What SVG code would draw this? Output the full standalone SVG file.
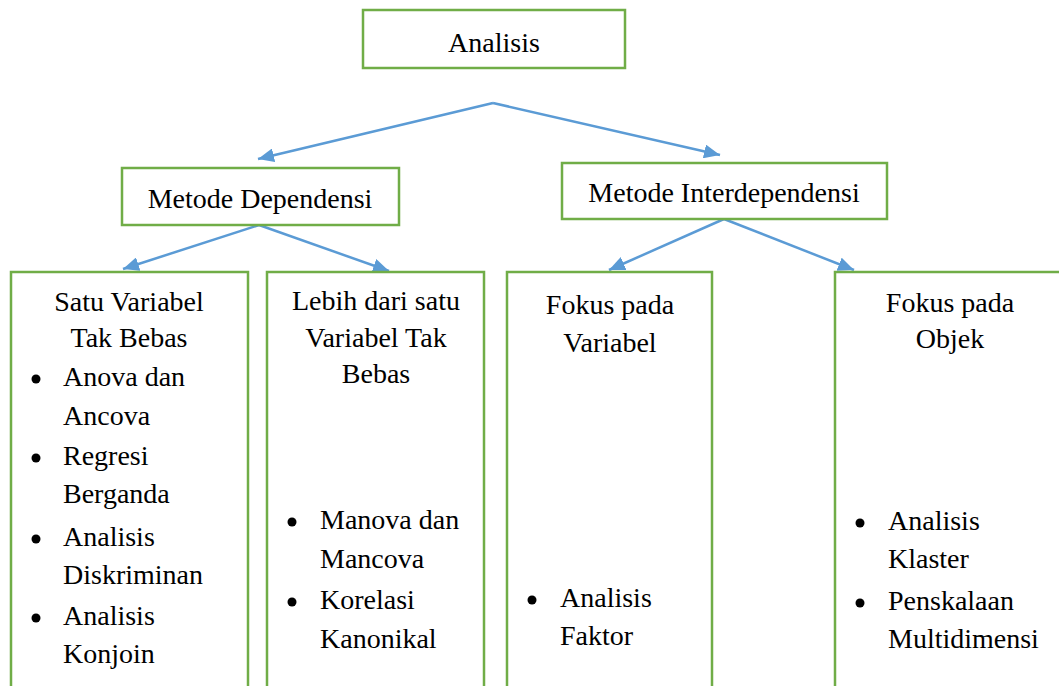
<svg xmlns="http://www.w3.org/2000/svg" width="1059" height="686" viewBox="0 0 1059 686">
<style>
.box{fill:#fff;stroke:#70AD47;stroke-width:2.5}
.t{font-family:'Liberation Serif','Tinos','Times New Roman','DejaVu Serif',serif;font-size:28px;fill:#000}
.c{text-anchor:middle}
.con{stroke:#5B9BD5;stroke-width:2.5;fill:none;marker-end:url(#ah)}
.b{fill:#000}
</style>
<defs>
<marker id="ah" markerUnits="userSpaceOnUse" markerWidth="18" markerHeight="14" refX="16" refY="7" orient="auto">
<path d="M0,0 L16,7 L0,14 Z" fill="#5B9BD5"/>
</marker>
</defs>
<rect width="1059" height="686" fill="#fff"/>
<g id="connectors">
<line class="con" x1="493" y1="103" x2="258" y2="159"/>
<line class="con" x1="493" y1="103" x2="720" y2="155"/>
<line class="con" x1="259" y1="225" x2="123" y2="269"/>
<line class="con" x1="259" y1="225" x2="389" y2="271"/>
<line class="con" x1="724" y1="219" x2="609" y2="270"/>
<line class="con" x1="724" y1="219" x2="854" y2="270"/>
</g>
<g id="analisis">
<rect class="box" x="363" y="10" width="262" height="58"/>
<text class="t c" x="494" y="52" font-family="Liberation Serif">Analisis</text>
</g>
<g id="dependensi">
<rect class="box" x="122" y="168" width="277" height="57"/>
<text class="t c" x="260" y="208">Metode Dependensi</text>
</g>
<g id="interdependensi">
<rect class="box" x="562" y="163" width="325" height="56"/>
<text class="t c" x="724" y="202">Metode Interdependensi</text>
</g>
<g id="satu">
<rect class="box" x="11" y="272" width="237" height="430"/>
<text class="t c" x="129" y="311">Satu Variabel</text>
<text class="t c" x="129" y="347">Tak Bebas</text>
<circle class="b" cx="36" cy="379" r="4.5"/>
<text class="t" x="63" y="386">Anova dan</text>
<text class="t" x="63" y="425">Ancova</text>
<circle class="b" cx="36" cy="458" r="4.5"/>
<text class="t" x="63" y="465">Regresi</text>
<text class="t" x="63" y="503">Berganda</text>
<circle class="b" cx="36" cy="539" r="4.5"/>
<text class="t" x="63" y="546">Analisis</text>
<text class="t" x="63" y="584">Diskriminan</text>
<circle class="b" cx="36" cy="618" r="4.5"/>
<text class="t" x="63" y="625">Analisis</text>
<text class="t" x="63" y="663">Konjoin</text>
</g>
<g id="lebih">
<rect class="box" x="267" y="272" width="217" height="430"/>
<text class="t c" x="376" y="310">Lebih dari satu</text>
<text class="t c" x="376" y="347">Variabel Tak</text>
<text class="t c" x="376" y="383">Bebas</text>
<circle class="b" cx="292" cy="522" r="4.5"/>
<text class="t" x="320" y="529">Manova dan</text>
<text class="t" x="320" y="568">Mancova</text>
<circle class="b" cx="292" cy="602" r="4.5"/>
<text class="t" x="320" y="609">Korelasi</text>
<text class="t" x="320" y="648">Kanonikal</text>
</g>
<g id="variabel">
<rect class="box" x="507" y="272" width="205" height="430"/>
<text class="t c" x="610" y="314">Fokus pada</text>
<text class="t c" x="610" y="352">Variabel</text>
<circle class="b" cx="532" cy="600" r="4.5"/>
<text class="t" x="560" y="607">Analisis</text>
<text class="t" x="560" y="645">Faktor</text>
</g>
<g id="objek">
<rect class="box" x="835" y="272" width="240" height="430"/>
<text class="t c" x="950" y="312">Fokus pada</text>
<text class="t c" x="950" y="348">Objek</text>
<circle class="b" cx="860" cy="523" r="4.5"/>
<text class="t" x="888" y="530">Analisis</text>
<text class="t" x="888" y="568">Klaster</text>
<circle class="b" cx="860" cy="603" r="4.5"/>
<text class="t" x="888" y="610">Penskalaan</text>
<text class="t" x="888" y="648">Multidimensi</text>
</g>
</svg>
